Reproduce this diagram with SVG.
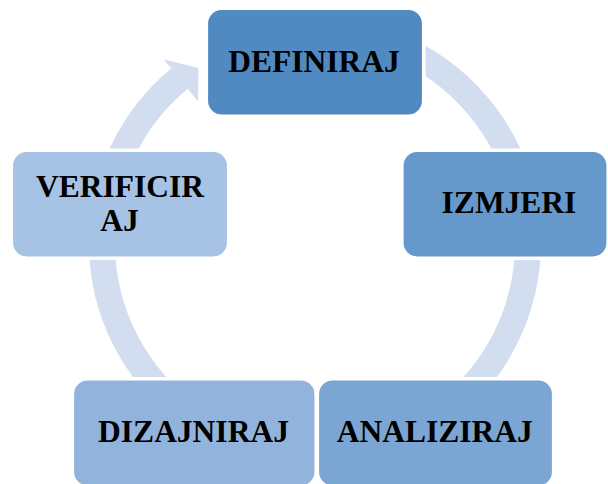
<svg xmlns="http://www.w3.org/2000/svg" width="608" height="484" viewBox="0 0 608 484">
<style>
.node{stroke:#ffffff;stroke-width:1.2}
.lbl{font-family:"Liberation Serif","Times New Roman",serif;font-weight:bold;font-size:31.5px;fill:#000;text-anchor:middle}
.ring{fill:none;stroke:#D2DEEF;stroke-width:26}
</style>
<defs>
<mask id="gaps" maskUnits="userSpaceOnUse" x="0" y="0" width="608" height="484">
<rect x="0" y="0" width="608" height="484" fill="#fff"/>
<rect x="204.5" y="6.5" width="221" height="111.5" rx="16" fill="#000"/>
<rect x="400" y="148.5" width="213" height="111.5" rx="16" fill="#000"/>
<rect x="9.5" y="148.5" width="221" height="111.5" rx="16" fill="#000"/>
<rect x="70.5" y="377" width="247.5" height="112" rx="16" fill="#000"/>
<rect x="315.5" y="377" width="240" height="112" rx="16" fill="#000"/>
</mask>
</defs>
<rect width="608" height="484" fill="#ffffff"/>
<g id="connectors" mask="url(#gaps)">
<path class="ring" d="M 315 30 A 213 213 0 1 1 179.5 78.6"/>
<polygon points="164,59.5 198.5,68 198,101.5" fill="#D2DEEF"/>
</g>
<g id="node-definiraj">
<rect class="node" x="207.5" y="9.5" width="215" height="105.5" rx="14" fill="#508AC0"/>
<text class="lbl" x="314" y="72">DEFINIRAJ</text>
</g>
<g id="node-izmjeri">
<rect class="node" x="403" y="151.5" width="204" height="105.5" rx="14" fill="#6699CB"/>
<text class="lbl" x="509" y="213.3">IZMJERI</text>
</g>
<g id="node-analiziraj">
<rect class="node" x="318.5" y="380" width="234" height="106" rx="14" fill="#7BA5D2"/>
<text class="lbl" x="434.7" y="442">ANALIZIRAJ</text>
</g>
<g id="node-dizajniraj">
<rect class="node" x="73.5" y="380" width="241.5" height="106" rx="14" fill="#92B4DC"/>
<text class="lbl" x="193.5" y="441.7">DIZAJNIRAJ</text>
</g>
<g id="node-verificiraj">
<rect class="node" x="12.5" y="151.5" width="215" height="105.5" rx="14" fill="#A6C2E4"/>
<text class="lbl" x="120" y="197.3">VERIFICIR</text>
<text class="lbl" x="119.5" y="230.7">AJ</text>
</g>
</svg>
